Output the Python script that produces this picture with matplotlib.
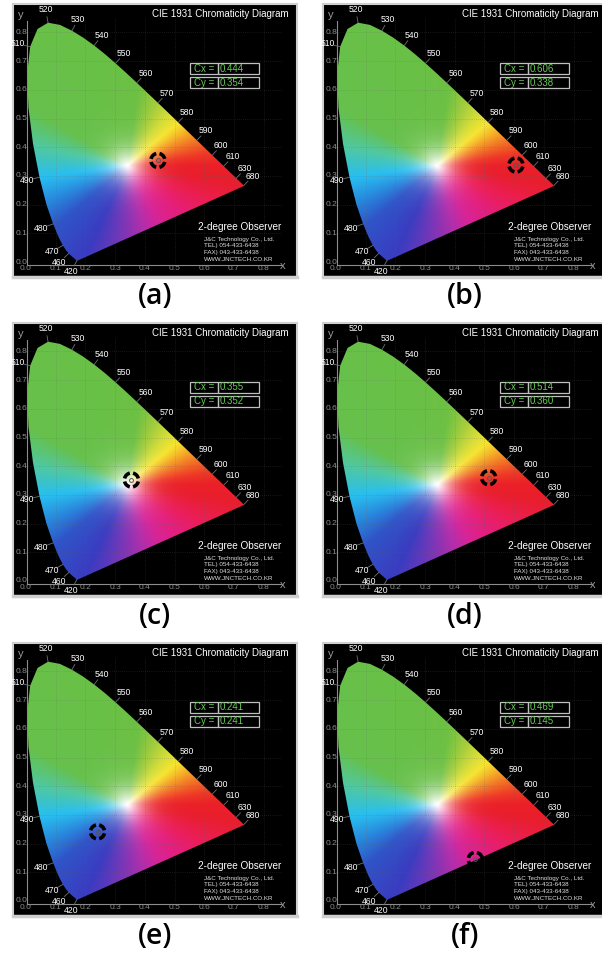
import numpy as np
import matplotlib
matplotlib.use("Agg")
import matplotlib.pyplot as plt
from matplotlib.patches import Polygon, Arc, Rectangle

# CIE 1931 2-degree spectral locus (wavelength, x, y)
wl = np.array([380, 385, 390, 395, 400, 405, 410, 415, 420, 425, 430, 435, 440, 445,
               450, 455, 460, 465, 470, 475, 480, 485, 490, 495, 500, 505, 510, 515,
               520, 525, 530, 535, 540, 545, 550, 555, 560, 565, 570, 575, 580, 585,
               590, 595, 600, 605, 610, 615, 620, 625, 630, 635, 640, 645, 650, 655,
               660, 665, 670, 680, 690, 700])
loc_x = np.array([0.1741, 0.1740, 0.1738, 0.1736, 0.1733, 0.1730, 0.1726, 0.1721, 0.1714,
                  0.1703, 0.1689, 0.1669, 0.1644, 0.1611, 0.1566, 0.1510, 0.1440, 0.1355,
                  0.1241, 0.1096, 0.0913, 0.0687, 0.0454, 0.0235, 0.0082, 0.0039, 0.0139,
                  0.0389, 0.0743, 0.1142, 0.1547, 0.1929, 0.2296, 0.2658, 0.3016, 0.3373,
                  0.3731, 0.4087, 0.4441, 0.4788, 0.5125, 0.5448, 0.5752, 0.6029, 0.6270,
                  0.6482, 0.6658, 0.6801, 0.6915, 0.7006, 0.7079, 0.7140, 0.7190, 0.7230,
                  0.7260, 0.7283, 0.7300, 0.7311, 0.7320, 0.7334, 0.7344, 0.7347])
loc_y = np.array([0.0050, 0.0050, 0.0049, 0.0049, 0.0048, 0.0048, 0.0048, 0.0048, 0.0051,
                  0.0058, 0.0069, 0.0086, 0.0109, 0.0138, 0.0177, 0.0227, 0.0297, 0.0399,
                  0.0578, 0.0868, 0.1327, 0.2007, 0.2950, 0.4127, 0.5384, 0.6548, 0.7502,
                  0.8120, 0.8338, 0.8262, 0.8059, 0.7816, 0.7543, 0.7243, 0.6923, 0.6589,
                  0.6245, 0.5896, 0.5547, 0.5202, 0.4866, 0.4544, 0.4242, 0.3965, 0.3725,
                  0.3514, 0.3340, 0.3197, 0.3083, 0.2993, 0.2920, 0.2859, 0.2809, 0.2770,
                  0.2740, 0.2717, 0.2700, 0.2689, 0.2680, 0.2666, 0.2656, 0.2653])

label_wl = [420, 460, 470, 480, 490, 510, 520, 530, 540, 550, 560, 570, 580, 590,
            600, 610, 630, 680]

panels = ["(a)", "(b)", "(c)", "(d)", "(e)", "(f)"]
cx = [0.444, 0.606, 0.355, 0.514, 0.241, 0.469]
cy = [0.354, 0.338, 0.352, 0.360, 0.241, 0.145]

ticks = [0.0, 0.1, 0.2, 0.3, 0.4, 0.5, 0.6, 0.7, 0.8]
company = ["J&C Technology Co., Ltd.", "TEL) 054-433-6438", "FAX) 043-433-6438",
           "WWW.JNCTECH.CO.KR"]

# colour field: hue by angle around the white point, fading to white in the middle
wx, wy = 0.34, 0.335
hue_ang = [0, 8, 20, 32, 40, 52, 65, 82, 150, 168, 188, 205, 220, 245, 262, 285,
           300, 320, 337, 351, 360]
hue_col = np.array([(235, 32, 40), (238, 55, 38), (242, 120, 38), (246, 190, 40),
                    (246, 228, 48), (210, 220, 55), (165, 205, 60), (108, 192, 68),
                    (102, 192, 76), (80, 200, 160), (40, 190, 240), (40, 135, 220),
                    (48, 85, 200), (58, 60, 192), (110, 55, 185), (180, 45, 170),
                    (215, 35, 150), (230, 30, 120), (235, 30, 80), (232, 30, 45),
                    (235, 32, 40)]) / 255.0

gx = np.linspace(0, 0.745, 450)
gy = np.linspace(0, 0.84, 450)
X, Y = np.meshgrid(gx, gy)
theta = np.degrees(np.arctan2((Y - wy) * 287, (X - wx) * 297)) % 360
r = np.hypot(X - wx, Y - wy)
f = 1 - np.exp(-(r / 0.058) ** 1.3)
edge = np.stack([np.interp(theta, hue_ang, hue_col[:, k]) for k in range(3)], axis=-1)
rgb = 1 - f[..., None] * (1 - edge)
rgb = np.clip(rgb, 0, 1)

fig = plt.figure(figsize=(6.02, 9.58), dpi=100)
fig.patch.set_facecolor("white")

W, H = 602, 958
lefts = [13, 323]
tops = [4, 323, 643]
pw, ph = 284, 273

px_x, px_y = 297.0, 287.0
for i in range(6):
    row, col = divmod(i, 2)
    left = lefts[col]
    top = tops[row]
    ax = fig.add_axes([left / W, 1 - (top + ph) / H, pw / W, ph / H])
    ax.set_facecolor("black")

    im = ax.imshow(rgb, extent=[0, 0.745, 0, 0.84], origin="lower",
                   interpolation="bilinear", aspect="auto", zorder=1)
    poly = Polygon(np.column_stack([loc_x, loc_y]), closed=True,
                   facecolor="none", edgecolor="none", transform=ax.transData)
    ax.add_patch(poly)
    im.set_clip_path(poly)

    ax.set_xlim(-13 / px_x, 271 / px_x)
    ax.set_ylim(-15 / px_y, 258 / px_y)
    ax.set_xticks([])
    ax.set_yticks([])
    for s in ax.spines.values():
        s.set_color("#cfcfcf")
        s.set_linewidth(1.5)
    ax.spines["bottom"].set_linewidth(2.5)

    # faint grid
    for t in ticks[1:]:
        ax.plot([t, t], [0, 0.85], color="#606060", lw=0.5, ls=(0, (1, 2)),
                alpha=0.45, zorder=2)
        ax.plot([0, 0.86], [t, t], color="#606060", lw=0.5, ls=(0, (1, 2)),
                alpha=0.45, zorder=2)

    # axes
    ax.plot([0.003, 0.003], [-0.01, 0.84], color="#8c8c8c", lw=0.8, zorder=3)
    ax.plot([0.003, 0.86], [-0.01, -0.01], color="#8c8c8c", lw=0.8, zorder=3)
    for t in ticks:
        ax.text(t, -0.024, f"{t:.1f}", ha="center", va="center", fontsize=6,
                color="#8c8c8c", family="Liberation Sans", zorder=4)
        ax.text(-0.0135, t, f"{t:.1f}", ha="center", va="center", fontsize=6,
                color="#8c8c8c", family="Liberation Sans", zorder=4)
    ax.text(-0.017, 0.861, "y", ha="center", va="center", fontsize=8,
            color="#9a9a9a", family="Liberation Sans")
    ax.text(0.865, -0.014, "x", ha="center", va="center", fontsize=8,
            color="#9a9a9a", family="Liberation Sans")

    # wavelength labels
    for w in label_wl:
        k = int(np.where(wl == w)[0][0])
        k0, k1 = max(k - 1, 0), min(k + 1, len(wl) - 1)
        tx = (loc_x[k1] - loc_x[k0]) * px_x
        ty = (loc_y[k1] - loc_y[k0]) * px_y
        n = np.hypot(tx, ty)
        nx, ny = -ty / n, tx / n
        x0, y0 = loc_x[k], loc_y[k]
        ax.plot([x0, x0 + nx * 6 / px_x], [y0, y0 + ny * 6 / px_y],
                color="#707070", lw=0.6, zorder=3)
        ax.text(x0 + nx * 13 / px_x, y0 + ny * 13 / px_y, str(w), ha="center",
                va="center", fontsize=6.2, color="white", family="Liberation Sans",
                zorder=4)

    ax.text(0.885, 0.864, "CIE 1931 Chromaticity Diagram", ha="right", va="center",
            fontsize=7, color="white", family="Liberation Sans")

    # Cx / Cy read-out boxes
    for j, (name, val) in enumerate([("Cx =", cx[i]), ("Cy =", cy[i])]):
        y_top = (199 - j * 14) / px_y
        bh = 11 / px_y
        ax.add_patch(Rectangle((164 / px_x, y_top - bh), 28 / px_x, bh, fill=False,
                               edgecolor="#c0c0c0", lw=0.9, zorder=5))
        ax.add_patch(Rectangle((192 / px_x, y_top - bh), 41 / px_x, bh, fill=False,
                               edgecolor="#c0c0c0", lw=0.9, zorder=5))
        ax.text(178 / px_x, y_top - bh / 2, name, ha="center", va="center",
                fontsize=7, color="#66cc55", family="Liberation Sans", zorder=6)
        ax.text(194 / px_x, y_top - bh / 2, f"{val:.3f}", ha="left", va="center",
                fontsize=7, color="#66cc55", family="Liberation Sans", zorder=6)

    ax.text(0.579, 0.122, "2-degree Observer", ha="left", va="center", fontsize=7.2,
            color="white", family="Liberation Sans")
    for j, line in enumerate(company):
        ax.text(0.599, 0.080 - j * 0.0235, line, ha="left", va="center", fontsize=4.5,
                color="#e0e0e0", family="Liberation Sans")

    # target marker
    for a0 in [0, 90, 180, 270]:
        ax.add_patch(Arc((cx[i], cy[i]), 14 / px_x, 14 / px_y, theta1=a0 + 13,
                         theta2=a0 + 77, color="black", lw=2.6, zorder=7))
    ax.plot(cx[i], cy[i], "o", ms=2.8, mfc="none", mec="#555555", mew=0.7, zorder=8)

    fig.text((left + 142) / W, 1 - (top + 293) / H, panels[i], ha="center",
             va="center", fontsize=20.5, family="Open Sans", weight="semibold",
             color="black")

fig.savefig("out.png", dpi=100, facecolor="white")
